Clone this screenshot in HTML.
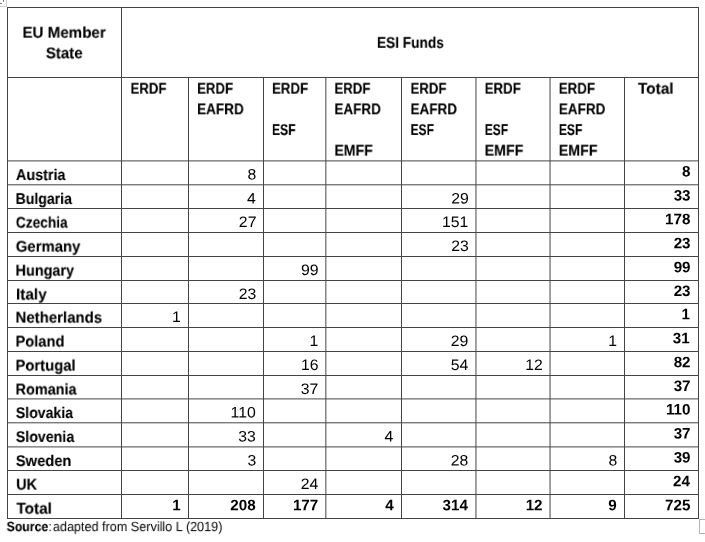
<!DOCTYPE html><html><head><meta charset="utf-8"><title>ESI Funds</title><style>
html,body{margin:0;padding:0;background:#fff;}
body{width:705px;height:542px;position:relative;overflow:hidden;font-family:"Liberation Sans",sans-serif;color:#000;}
.v,.h{position:absolute;background:#444;}
.t{position:absolute;white-space:nowrap;font-size:15.5px;line-height:20px;height:20px;transform-origin:0 15.37px;will-change:transform;}
.t i{display:inline-block;font-style:normal;transform:rotate(0.03deg);}
.b{font-weight:bold;-webkit-text-stroke:0.1px #000;}.bd{font-weight:bold;}
</style></head><body>
<div class="h" style="left:7px;top:7px;width:692px;height:1px;opacity:1.00"></div>
<div class="h" style="left:7px;top:77px;width:692px;height:1px;opacity:1.00"></div>
<div class="h" style="left:7px;top:160px;width:692px;height:1px;opacity:0.60"></div>
<div class="h" style="left:7px;top:161px;width:692px;height:1px;opacity:0.40"></div>
<div class="h" style="left:7px;top:184px;width:692px;height:1px;opacity:0.70"></div>
<div class="h" style="left:7px;top:185px;width:692px;height:1px;opacity:0.30"></div>
<div class="h" style="left:7px;top:208px;width:692px;height:1px;opacity:1.00"></div>
<div class="h" style="left:7px;top:232px;width:692px;height:1px;opacity:1.00"></div>
<div class="h" style="left:7px;top:256px;width:692px;height:1px;opacity:1.00"></div>
<div class="h" style="left:7px;top:280px;width:692px;height:1px;opacity:1.00"></div>
<div class="h" style="left:7px;top:303px;width:692px;height:1px;opacity:1.00"></div>
<div class="h" style="left:7px;top:327px;width:692px;height:1px;opacity:1.00"></div>
<div class="h" style="left:7px;top:351px;width:692px;height:1px;opacity:1.00"></div>
<div class="h" style="left:7px;top:375px;width:692px;height:1px;opacity:1.00"></div>
<div class="h" style="left:7px;top:398px;width:692px;height:1px;opacity:0.60"></div>
<div class="h" style="left:7px;top:399px;width:692px;height:1px;opacity:0.40"></div>
<div class="h" style="left:7px;top:422px;width:692px;height:1px;opacity:0.70"></div>
<div class="h" style="left:7px;top:423px;width:692px;height:1px;opacity:0.30"></div>
<div class="h" style="left:7px;top:446px;width:692px;height:1px;opacity:0.60"></div>
<div class="h" style="left:7px;top:447px;width:692px;height:1px;opacity:0.40"></div>
<div class="h" style="left:7px;top:470px;width:692px;height:1px;opacity:1.00"></div>
<div class="h" style="left:7px;top:494px;width:692px;height:1px;opacity:1.00"></div>
<div class="h" style="left:7px;top:518px;width:692px;height:1px;opacity:1.00"></div>
<div class="v" style="left:7px;top:7px;width:1px;height:512px;opacity:1.00"></div>
<div class="v" style="left:121px;top:7px;width:1px;height:512px;opacity:1.00"></div>
<div class="v" style="left:188px;top:77px;width:1px;height:442px;opacity:1.00"></div>
<div class="v" style="left:263px;top:77px;width:1px;height:442px;opacity:1.00"></div>
<div class="v" style="left:325px;top:77px;width:1px;height:442px;opacity:0.65"></div>
<div class="v" style="left:326px;top:77px;width:1px;height:442px;opacity:0.35"></div>
<div class="v" style="left:401px;top:77px;width:1px;height:442px;opacity:1.00"></div>
<div class="v" style="left:475px;top:77px;width:1px;height:442px;opacity:0.55"></div>
<div class="v" style="left:476px;top:77px;width:1px;height:442px;opacity:0.45"></div>
<div class="v" style="left:549px;top:77px;width:1px;height:442px;opacity:0.45"></div>
<div class="v" style="left:550px;top:77px;width:1px;height:442px;opacity:0.55"></div>
<div class="v" style="left:624px;top:77px;width:1px;height:442px;opacity:1.00"></div>
<div class="v" style="left:698px;top:7px;width:1px;height:512px;opacity:1.00"></div>
<div style="position:absolute;left:-1px;top:-1px;width:6px;height:6px;border:1px solid #cfcfcf;box-sizing:content-box"></div>
<div style="position:absolute;left:3px;top:0;width:1px;height:2px;background:#777"></div><div style="position:absolute;left:0;top:3px;width:2px;height:1px;background:#777"></div>
<div style="position:absolute;left:699px;top:519px;width:13px;height:13px;border:1px solid #b4b4b4"></div>
<span id="i0" class="t b" style="left:22px;top:22px;transform:translate(0.50px,0.63px) scale(0.9759,1.000);"><i>EU Member</i></span>
<span id="i1" class="t b" style="left:45px;top:43px;transform:translate(0.82px,0.23px) scale(0.9717,1.000);"><i>State</i></span>
<span id="i2" class="t b" style="left:376px;top:32px;transform:translate(0.94px,0.78px) scale(0.8824,1.000);"><i>ESI Funds</i></span>
<span id="i3" class="t b" style="left:130px;top:78px;transform:translate(0.56px,0.63px) scale(0.8514,1.000);"><i>ERDF</i></span>
<span id="i4" class="t b" style="left:197px;top:78px;transform:translate(0.14px,0.63px) scale(0.8515,1.000);"><i>ERDF</i></span>
<span id="i5" class="t b" style="left:197px;top:99px;transform:translate(0.08px,0.28px) scale(0.8741,1.000);"><i>EAFRD</i></span>
<span id="i6" class="t b" style="left:271px;top:78px;transform:translate(1.00px,0.63px) scale(0.8573,1.000);"><i>ERDF</i></span>
<span id="i7" class="t b" style="left:271px;top:119px;transform:translate(1.00px,0.93px) scale(0.7815,1.000);"><i>ESF</i></span>
<span id="i8" class="t b" style="left:334px;top:78px;transform:translate(0.46px,0.63px) scale(0.8520,1.000);"><i>ERDF</i></span>
<span id="i9" class="t b" style="left:334px;top:99px;transform:translate(0.46px,0.28px) scale(0.8686,1.000);"><i>EAFRD</i></span>
<span id="i10" class="t b" style="left:334px;top:140px;transform:translate(0.46px,0.58px) scale(0.9082,1.000);"><i>EMFF</i></span>
<span id="i11" class="t b" style="left:410px;top:78px;transform:translate(0.56px,0.63px) scale(0.8514,1.000);"><i>ERDF</i></span>
<span id="i12" class="t b" style="left:410px;top:99px;transform:translate(0.56px,0.28px) scale(0.8695,1.000);"><i>EAFRD</i></span>
<span id="i13" class="t b" style="left:410px;top:119px;transform:translate(0.57px,0.93px) scale(0.7740,1.000);"><i>ESF</i></span>
<span id="i14" class="t b" style="left:484px;top:78px;transform:translate(0.70px,0.63px) scale(0.8560,1.000);"><i>ERDF</i></span>
<span id="i15" class="t b" style="left:484px;top:119px;transform:translate(0.76px,0.93px) scale(0.7739,1.000);"><i>ESF</i></span>
<span id="i16" class="t b" style="left:484px;top:140px;transform:translate(0.64px,0.58px) scale(0.9166,1.000);"><i>EMFF</i></span>
<span id="i17" class="t b" style="left:558px;top:78px;transform:translate(0.80px,0.63px) scale(0.8586,1.000);"><i>ERDF</i></span>
<span id="i18" class="t b" style="left:558px;top:99px;transform:translate(0.81px,0.28px) scale(0.8723,1.000);"><i>EAFRD</i></span>
<span id="i19" class="t b" style="left:558px;top:119px;transform:translate(0.86px,0.93px) scale(0.7793,1.000);"><i>ESF</i></span>
<span id="i20" class="t b" style="left:558px;top:140px;transform:translate(0.74px,0.58px) scale(0.9188,1.000);"><i>EMFF</i></span>
<span id="i21" class="t b" style="left:637px;top:78px;transform:translate(0.91px,0.63px) scale(0.9938,1.000);"><i>Total</i></span>
<span id="i22" class="t b" style="left:15px;top:164px;transform:translate(0.97px,0.98px) scale(0.9266,1.000);"><i>Austria</i></span>
<span id="i23" class="t b" style="left:15px;top:188px;transform:translate(0.55px,0.88px) scale(0.9084,1.000);"><i>Bulgaria</i></span>
<span id="i24" class="t b" style="left:15px;top:212px;transform:translate(0.84px,0.58px) scale(0.8834,1.000);"><i>Czechia</i></span>
<span id="i25" class="t b" style="left:15px;top:236px;transform:translate(0.75px,0.58px) scale(0.9624,1.000);"><i>Germany</i></span>
<span id="i26" class="t b" style="left:15px;top:260px;transform:translate(0.51px,0.58px) scale(0.9311,1.000);"><i>Hungary</i></span>
<span id="i27" class="t b" style="left:15px;top:284px;transform:translate(0.98px,0.48px) scale(0.9879,1.000);"><i>Italy</i></span>
<span id="i28" class="t b" style="left:15px;top:307px;transform:translate(0.51px,0.58px) scale(0.9665,1.000);"><i>Netherlands</i></span>
<span id="i29" class="t b" style="left:15px;top:331px;transform:translate(0.51px,0.53px) scale(0.9465,1.000);"><i>Poland</i></span>
<span id="i30" class="t b" style="left:15px;top:355px;transform:translate(0.51px,0.58px) scale(0.9554,1.000);"><i>Portugal</i></span>
<span id="i31" class="t b" style="left:15px;top:379px;transform:translate(0.51px,0.48px) scale(0.9332,1.000);"><i>Romania</i></span>
<span id="i32" class="t b" style="left:15px;top:402px;transform:translate(0.80px,0.98px) scale(0.9103,1.000);"><i>Slovakia</i></span>
<span id="i33" class="t b" style="left:15px;top:426px;transform:translate(0.79px,0.88px) scale(0.9161,1.000);"><i>Slovenia</i></span>
<span id="i34" class="t b" style="left:15px;top:450px;transform:translate(0.80px,0.98px) scale(0.9504,1.000);"><i>Sweden</i></span>
<span id="i35" class="t b" style="left:16px;top:474px;transform:translate(0.17px,0.58px) scale(0.9276,1.000);"><i>UK</i></span>
<span id="i36" class="t b" style="left:16px;top:498px;transform:translate(0.41px,0.58px) scale(0.9908,1.000);"><i>Total</i></span>
<span id="i37" class="t r" style="left:247px;top:164px;transform:translate(0.45px,0.48px) scale(1.0400,1.000);transform-origin:0 15.27px;font-size:15.2px;"><i>8</i></span>
<span id="i38" class="t bd" style="left:682px;top:161px;transform:translate(0.00px,0.58px) scale(1.0000,1.000);transform-origin:0 15.27px;font-size:15.2px;"><i>8</i></span>
<span id="i39" class="t r" style="left:247px;top:188px;transform:translate(0.11px,0.38px) scale(1.0400,1.000);transform-origin:0 15.27px;font-size:15.2px;"><i>4</i></span>
<span id="i40" class="t r" style="left:451px;top:188px;transform:translate(0.27px,0.38px) scale(1.0400,1.000);transform-origin:0 15.27px;font-size:15.2px;"><i>29</i></span>
<span id="i41" class="t bd" style="left:673px;top:185px;transform:translate(0.67px,0.48px) scale(1.0000,1.000);transform-origin:0 15.27px;font-size:15.2px;"><i>33</i></span>
<span id="i42" class="t r" style="left:238px;top:212px;transform:translate(0.86px,0.08px) scale(1.0400,1.000);transform-origin:0 15.27px;font-size:15.2px;"><i>27</i></span>
<span id="i43" class="t r" style="left:442px;top:212px;transform:translate(0.01px,0.08px) scale(1.0400,1.000);transform-origin:0 15.27px;font-size:15.2px;"><i>151</i></span>
<span id="i44" class="t bd" style="left:665px;top:209px;transform:translate(0.00px,0.18px) scale(1.0000,1.000);transform-origin:0 15.27px;font-size:15.2px;"><i>178</i></span>
<span id="i45" class="t r" style="left:451px;top:236px;transform:translate(0.27px,0.08px) scale(1.0400,1.000);transform-origin:0 15.27px;font-size:15.2px;"><i>23</i></span>
<span id="i46" class="t bd" style="left:673px;top:233px;transform:translate(0.68px,0.18px) scale(1.0000,1.000);transform-origin:0 15.27px;font-size:15.2px;"><i>23</i></span>
<span id="i47" class="t r" style="left:300px;top:260px;transform:translate(0.98px,0.08px) scale(1.0400,1.000);transform-origin:0 15.27px;font-size:15.2px;"><i>99</i></span>
<span id="i48" class="t bd" style="left:673px;top:257px;transform:translate(0.66px,0.18px) scale(1.0000,1.000);transform-origin:0 15.27px;font-size:15.2px;"><i>99</i></span>
<span id="i49" class="t r" style="left:238px;top:283px;transform:translate(0.83px,0.98px) scale(1.0400,1.000);transform-origin:0 15.27px;font-size:15.2px;"><i>23</i></span>
<span id="i50" class="t bd" style="left:673px;top:281px;transform:translate(0.68px,0.08px) scale(1.0000,1.000);transform-origin:0 15.27px;font-size:15.2px;"><i>23</i></span>
<span id="i51" class="t r" style="left:171px;top:307px;transform:translate(1.00px,0.08px) scale(1.0400,1.000);transform-origin:0 15.27px;font-size:15.2px;"><i>1</i></span>
<span id="i52" class="t bd" style="left:681px;top:304px;transform:translate(0.47px,0.18px) scale(1.0000,1.000);transform-origin:0 15.27px;font-size:15.2px;"><i>1</i></span>
<span id="i53" class="t r" style="left:309px;top:331px;transform:translate(0.53px,0.03px) scale(1.0400,1.000);transform-origin:0 15.27px;font-size:15.2px;"><i>1</i></span>
<span id="i54" class="t r" style="left:450px;top:331px;transform:translate(0.75px,0.03px) scale(1.0400,1.000);transform-origin:0 15.27px;font-size:15.2px;"><i>29</i></span>
<span id="i55" class="t r" style="left:608px;top:331px;transform:translate(0.25px,0.03px) scale(1.0400,1.000);transform-origin:0 15.27px;font-size:15.2px;"><i>1</i></span>
<span id="i56" class="t bd" style="left:672px;top:328px;transform:translate(0.71px,0.13px) scale(1.0000,1.000);transform-origin:0 15.27px;font-size:15.2px;"><i>31</i></span>
<span id="i57" class="t r" style="left:300px;top:355px;transform:translate(0.93px,0.08px) scale(1.0400,1.000);transform-origin:0 15.27px;font-size:15.2px;"><i>16</i></span>
<span id="i58" class="t r" style="left:450px;top:355px;transform:translate(0.65px,0.08px) scale(1.0400,1.000);transform-origin:0 15.27px;font-size:15.2px;"><i>54</i></span>
<span id="i59" class="t r" style="left:525px;top:355px;transform:translate(0.25px,0.08px) scale(1.0400,1.000);transform-origin:0 15.27px;font-size:15.2px;"><i>12</i></span>
<span id="i60" class="t bd" style="left:673px;top:352px;transform:translate(0.67px,0.18px) scale(1.0000,1.000);transform-origin:0 15.27px;font-size:15.2px;"><i>82</i></span>
<span id="i61" class="t r" style="left:300px;top:378px;transform:translate(0.78px,0.98px) scale(1.0400,1.000);transform-origin:0 15.27px;font-size:15.2px;"><i>37</i></span>
<span id="i62" class="t bd" style="left:673px;top:376px;transform:translate(0.67px,0.08px) scale(1.0000,1.000);transform-origin:0 15.27px;font-size:15.2px;"><i>37</i></span>
<span id="i63" class="t r" style="left:230px;top:402px;transform:translate(0.59px,0.48px) scale(1.0400,1.000);transform-origin:0 15.27px;font-size:15.2px;"><i>110</i></span>
<span id="i64" class="t bd" style="left:666px;top:399px;transform:translate(0.00px,0.58px) scale(1.0000,1.000);transform-origin:0 15.27px;font-size:15.2px;"><i>110</i></span>
<span id="i65" class="t r" style="left:238px;top:426px;transform:translate(0.20px,0.38px) scale(1.0400,1.000);transform-origin:0 15.27px;font-size:15.2px;"><i>33</i></span>
<span id="i66" class="t r" style="left:384px;top:426px;transform:translate(0.61px,0.38px) scale(1.0400,1.000);transform-origin:0 15.27px;font-size:15.2px;"><i>4</i></span>
<span id="i67" class="t bd" style="left:673px;top:423px;transform:translate(0.67px,0.48px) scale(1.0000,1.000);transform-origin:0 15.27px;font-size:15.2px;"><i>37</i></span>
<span id="i68" class="t r" style="left:247px;top:450px;transform:translate(0.45px,0.48px) scale(1.0400,1.000);transform-origin:0 15.27px;font-size:15.2px;"><i>3</i></span>
<span id="i69" class="t r" style="left:450px;top:450px;transform:translate(0.75px,0.48px) scale(1.0400,1.000);transform-origin:0 15.27px;font-size:15.2px;"><i>28</i></span>
<span id="i70" class="t r" style="left:608px;top:450px;transform:translate(0.44px,0.48px) scale(1.0400,1.000);transform-origin:0 15.27px;font-size:15.2px;"><i>8</i></span>
<span id="i71" class="t bd" style="left:673px;top:447px;transform:translate(0.67px,0.58px) scale(1.0000,1.000);transform-origin:0 15.27px;font-size:15.2px;"><i>39</i></span>
<span id="i72" class="t r" style="left:300px;top:474px;transform:translate(0.73px,0.08px) scale(1.0400,1.000);transform-origin:0 15.27px;font-size:15.2px;"><i>24</i></span>
<span id="i73" class="t bd" style="left:673px;top:471px;transform:translate(0.00px,0.18px) scale(1.0000,1.000);transform-origin:0 15.27px;font-size:15.2px;"><i>24</i></span>
<span id="i74" class="t bd" style="left:172px;top:495px;transform:translate(0.17px,0.18px) scale(1.0000,1.000);transform-origin:0 15.27px;font-size:15.2px;"><i>1</i></span>
<span id="i75" class="t bd" style="left:230px;top:495px;transform:translate(0.26px,0.18px) scale(1.0000,1.000);transform-origin:0 15.27px;font-size:15.2px;"><i>208</i></span>
<span id="i76" class="t bd" style="left:292px;top:495px;transform:translate(0.92px,0.18px) scale(1.0000,1.000);transform-origin:0 15.27px;font-size:15.2px;"><i>177</i></span>
<span id="i77" class="t bd" style="left:385px;top:495px;transform:translate(0.18px,0.18px) scale(1.0000,1.000);transform-origin:0 15.27px;font-size:15.2px;"><i>4</i></span>
<span id="i78" class="t bd" style="left:442px;top:495px;transform:translate(0.53px,0.18px) scale(1.0000,1.000);transform-origin:0 15.27px;font-size:15.2px;"><i>314</i></span>
<span id="i79" class="t bd" style="left:525px;top:495px;transform:translate(0.67px,0.18px) scale(1.0000,1.000);transform-origin:0 15.27px;font-size:15.2px;"><i>12</i></span>
<span id="i80" class="t bd" style="left:608px;top:495px;transform:translate(0.31px,0.18px) scale(1.0000,1.000);transform-origin:0 15.27px;font-size:15.2px;"><i>9</i></span>
<span id="i81" class="t bd" style="left:665px;top:495px;transform:translate(0.00px,0.18px) scale(1.0000,1.000);transform-origin:0 15.27px;font-size:15.2px;"><i>725</i></span>
<span id="i82" class="t b" style="left:6px;top:517px;transform:translate(0.63px,0.11px) scale(0.9160,1.000);transform-origin:0 14.64px;font-size:13.4px;"><i>Source<span style="font-weight:normal;-webkit-text-stroke:0">:</span></i></span>
<span id="i83" class="t r" style="left:52px;top:517px;transform:translate(0.89px,0.11px) scale(0.9435,1.000);transform-origin:0 14.64px;font-size:13.4px;"><i>adapted from Servillo L (2019)</i></span>
</body></html>
